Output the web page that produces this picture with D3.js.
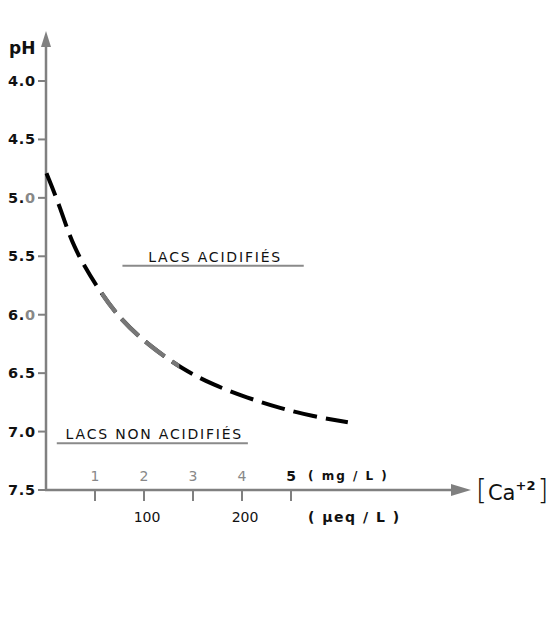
<!DOCTYPE html>
<html lang="fr">
<head>
  <meta charset="UTF-8" />
  <title>pH vs Ca+2</title>
  <script src="https://cdn.jsdelivr.net/npm/d3@7/dist/d3.min.js"></script>
  <style>
    html, body { margin: 0; padding: 0; background: #fff; }
    svg { display: block; }
    text { font-family: "DejaVu Sans", sans-serif; }
  </style>
</head>
<body>
  <div id="chart"></div>
  <script>
    // données
    const phTicks = [4.0, 4.5, 5.0, 5.5, 6.0, 6.5, 7.0, 7.5];
    const mgTicks = [1, 2, 3, 4, 5];
    const ueqTicks = [100, 200];
    // courbe : Ca (mg/L) -> pH
    const curveCa = [0.01, 0.29, 0.55, 1.03, 1.51, 2.12, 2.80, 3.41, 4.10, 4.78, 5.45, 6.16];
    const curvePh = [4.79, 5.08, 5.42, 5.76, 6.04, 6.27, 6.47, 6.60, 6.71, 6.80, 6.87, 6.92];
    const zones = [
      { label: "LACS ACIDIFIÉS", ph: 5.58, x0: 1.56, x1: 5.26 },
      { label: "LACS NON ACIDIFIÉS", ph: 7.1, x0: 0.22, x1: 4.12 }
    ];

    const width = 553, height = 625;
    const axisColor = "#808080";

    const svg = d3.select("#chart").append("svg")
      .attr("width", width).attr("height", height);

    const x = d3.scaleLinear().domain([0, 5]).range([46, 291]);
    const y = d3.scaleLinear().domain([4, 7.5]).range([81, 490]);
    const x0 = x(0), y0 = y(7.5);

    // axes
    svg.append("line").attr("x1", x0).attr("x2", x0).attr("y1", y0 + 1).attr("y2", 44)
      .attr("stroke", axisColor).attr("stroke-width", 2.5);
    svg.append("path").attr("d", `M${x0},31 L${x0 - 5},47 L${x0 + 5},47 Z`).attr("fill", axisColor);

    svg.append("line").attr("x1", x0 - 1).attr("x2", 455).attr("y1", y0).attr("y2", y0)
      .attr("stroke", axisColor).attr("stroke-width", 2.5);
    svg.append("path").attr("d", `M471,${y0} L451,${y0 - 6} L451,${y0 + 6} Z`).attr("fill", axisColor);

    // graduations pH
    const gy = svg.append("g");
    gy.selectAll("line").data(phTicks).enter().append("line")
      .attr("x1", x0 - 8).attr("x2", x0).attr("y1", d => y(d)).attr("y2", d => y(d))
      .attr("stroke", axisColor).attr("stroke-width", 2);
    const fadedZero = new Set(["5.0", "6.0"]);
    gy.selectAll("text").data(phTicks).enter().append("text")
      .attr("x", x0 - 10).attr("y", d => y(d) + 5)
      .attr("text-anchor", "end").attr("font-size", 14.5).attr("font-weight", "bold")
      .attr("letter-spacing", 0.8).attr("fill", "#111")
      .each(function (d) {
        const s = d.toFixed(1);
        const t = d3.select(this);
        t.append("tspan").text(s.slice(0, 2));
        t.append("tspan").attr("fill", fadedZero.has(s) ? "#888" : "#111").text(s.slice(2));
      });
    svg.append("text").attr("x", 9).attr("y", 54).attr("font-size", 17).attr("font-weight", "bold")
      .attr("fill", "#111").text("pH");

    // graduations Ca
    const gx = svg.append("g");
    gx.selectAll("line").data(mgTicks).enter().append("line")
      .attr("x1", d => x(d)).attr("x2", d => x(d)).attr("y1", y0).attr("y2", y0 + 11)
      .attr("stroke", axisColor).attr("stroke-width", 2);
    gx.selectAll("text.mg").data(mgTicks).enter().append("text").attr("class", "mg")
      .attr("x", d => x(d)).attr("y", y0 - 9).attr("text-anchor", "middle")
      .attr("font-size", 14).attr("fill", d => d === 5 ? "#111" : "#888")
      .attr("font-weight", d => d === 5 ? "bold" : "normal")
      .text(d => d);
    gx.selectAll("text.ueq").data(ueqTicks).enter().append("text").attr("class", "ueq")
      .attr("x", d => x(d / 50) + 3).attr("y", y0 + 32).attr("text-anchor", "middle")
      .attr("font-size", 14).attr("fill", "#111").text(d => d);

    svg.append("text").attr("x", 308).attr("y", y0 - 10).attr("font-size", 12).attr("font-weight", "bold")
      .attr("letter-spacing", 2).attr("fill", "#111").attr("xml:space", "preserve").text("( mg / L )");
    svg.append("text").attr("x", 308).attr("y", y0 + 32).attr("font-size", 14).attr("font-weight", "bold")
      .attr("letter-spacing", 1.5).attr("fill", "#111").attr("xml:space", "preserve").text("( μeq / L )");

    // [Ca+2]
    const ca = svg.append("text").attr("x", 476).attr("y", y0 + 10).attr("fill", "#111");
    ca.append("tspan").attr("font-size", 28).attr("font-weight", "300").text("[");
    ca.append("tspan").attr("font-size", 21).attr("dx", 1).text("Ca");
    ca.append("tspan").attr("font-size", 13).attr("font-weight", "bold").attr("dy", -10).text("+2");
    ca.append("tspan").attr("font-size", 28).attr("font-weight", "300").attr("dy", 10).attr("dx", 2).text("]");

    // zones
    const gz = svg.append("g");
    gz.selectAll("line").data(zones).enter().append("line")
      .attr("x1", d => x(d.x0)).attr("x2", d => x(d.x1))
      .attr("y1", d => y(d.ph)).attr("y2", d => y(d.ph))
      .attr("stroke", "#8a8a8a").attr("stroke-width", 2);
    gz.selectAll("text").data(zones).enter().append("text")
      .attr("x", d => (x(d.x0) + x(d.x1)) / 2 + 2).attr("y", d => y(d.ph) - 4)
      .attr("text-anchor", "middle").attr("font-size", 14).attr("letter-spacing", 1.8)
      .attr("fill", "#111").text(d => d.label);

    // courbe en tirets
    const pts = curveCa.map((c, i) => [c, curvePh[i]]);
    const line = d3.line().x(d => x(d[0])).y(d => y(d[1])).curve(d3.curveBasis);
    svg.append("defs").append("clipPath").attr("id", "grey-part")
      .append("rect").attr("x", x(1.12)).attr("y", 0).attr("width", x(2.72) - x(1.12)).attr("height", height);
    svg.append("path").datum(pts).attr("d", line)
      .attr("fill", "none").attr("stroke", "#000").attr("stroke-width", 4)
      .attr("stroke-dasharray", "24,9");
    svg.append("path").datum(pts).attr("d", line).attr("clip-path", "url(#grey-part)")
      .attr("fill", "none").attr("stroke", "#777").attr("stroke-width", 4.4)
      .attr("stroke-dasharray", "24,9");
  </script>
</body>
</html>
